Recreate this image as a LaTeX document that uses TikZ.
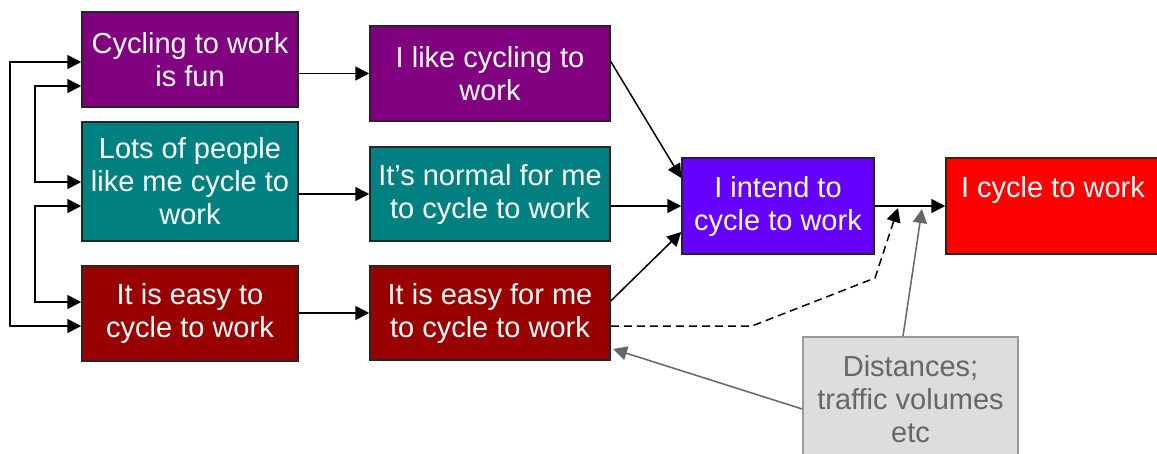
\documentclass[tikz,border=0pt]{standalone}
\usepackage{fontspec}
\setmainfont{Liberation Sans}
\usetikzlibrary{arrows.meta,calc}
\definecolor{boxpurple}{HTML}{800080}
\definecolor{boxteal}{HTML}{008080}
\definecolor{boxdarkred}{HTML}{990000}
\definecolor{boxviolet}{HTML}{6600FF}
\definecolor{boxred}{HTML}{FF0000}
\definecolor{boxgrey}{HTML}{DDDDDD}
\definecolor{greyline}{HTML}{666666}
\definecolor{greyedge}{HTML}{999999}
\definecolor{edgedark}{HTML}{262626}
\tikzset{
  box/.style={draw=edgedark, line width=1.5pt, inner sep=0pt, align=center,
    text=white, font=\fontsize{29}{33}\selectfont},
  flow/.style={line width=1.5pt, -{Triangle[length=14pt,width=14pt]}},
  twoway/.style={line width=1.5pt, {Triangle[length=14pt,width=14pt]}-{Triangle[length=14pt,width=14pt]}},
  influence/.style={line width=1.5pt, draw=greyline, -{Triangle[length=14pt,width=14pt]}},
}
\begin{document}
\begin{tikzpicture}[x=1pt,y=-1pt]
\useasboundingbox (0,0) rectangle (1157,453);
\clip (0,0) rectangle (1157,453);

% attitude, norm and control beliefs
\node[box, fill=boxpurple, minimum width=216pt, minimum height=95pt] (fun) at (190,59.5) {Cycling to work\\is fun};
\node[box, fill=boxpurple, minimum width=240pt, minimum height=95pt] (like) at (490,73.5) {I like cycling to\\work};
\node[box, fill=boxteal, minimum width=216pt, minimum height=119pt] (people) at (190,181.5) {Lots of people\\like me cycle to\\work};
\node[box, fill=boxteal, minimum width=240pt, minimum height=94pt] (normal) at (490,194) {It’s normal for me\\to cycle to work};
\node[box, fill=boxdarkred, minimum width=216pt, minimum height=95pt] (easy) at (190,313.5) {It is easy to\\cycle to work};
\node[box, fill=boxdarkred, minimum width=240pt, minimum height=94pt] (easyme) at (490,313) {It is easy for me\\to cycle to work};

% intention and behaviour
\node[box, fill=boxviolet, minimum width=192pt, minimum height=96pt] (intend) at (778,206) {I intend to\\cycle to work};
\node[box, fill=boxred, minimum width=214pt, minimum height=96pt] (cycle) at (1053,206) {I cycle to work\\[5pt]\mbox{}};

% external factors
\node[box, fill=boxgrey, draw=greyedge, text=greyline, minimum width=215pt, minimum height=124pt] (ext) at (910.5,399) {Distances;\\traffic volumes\\etc};

% beliefs feed the personal evaluations
\draw[flow] (fun.east |- like.west) -- (like.west);
\draw[flow] (people.east |- normal.west) -- (normal.west);
\draw[flow] (easy.east |- easyme.west) -- (easyme.west);

% evaluations feed the intention
\draw[flow] ([yshift=12pt]like.east) -- ([yshift=28pt]intend.west);
\draw[flow] (intend.west -| normal.east) -- (intend.west);
\draw[flow] ([yshift=12pt]easyme.east) -- ([yshift=-26pt]intend.west);
\draw[flow] (intend.east) -- (cycle.west);

% perceived ease acting directly on behaviour
\coordinate (d1) at (752,326);
\coordinate (d2) at (875,278);
\coordinate (d3) at (898,208);
\draw[flow, dashed, dash pattern=on 8pt off 5pt] ([yshift=-13pt]easyme.east) -- (d1) -- (d2) -- (d3);

% external factors
\coordinate (e1) at (922,209);
\draw[influence] (ext.north -| 903,0) -- (e1);
\draw[influence] (ext.west |- 0,409) -- (613,349);

% links between the beliefs
\draw[twoway] (fun.west |- 0,62) -- (10,62) -- (10,326) -- (easy.west |- 0,326);
\draw[twoway] (fun.west |- 0,86) -- (35,86) -- (35,182) -- (people.west |- 0,182);
\draw[twoway] (people.west |- 0,206) -- (35,206) -- (35,302) -- (easy.west |- 0,302);
\end{tikzpicture}
\end{document}
